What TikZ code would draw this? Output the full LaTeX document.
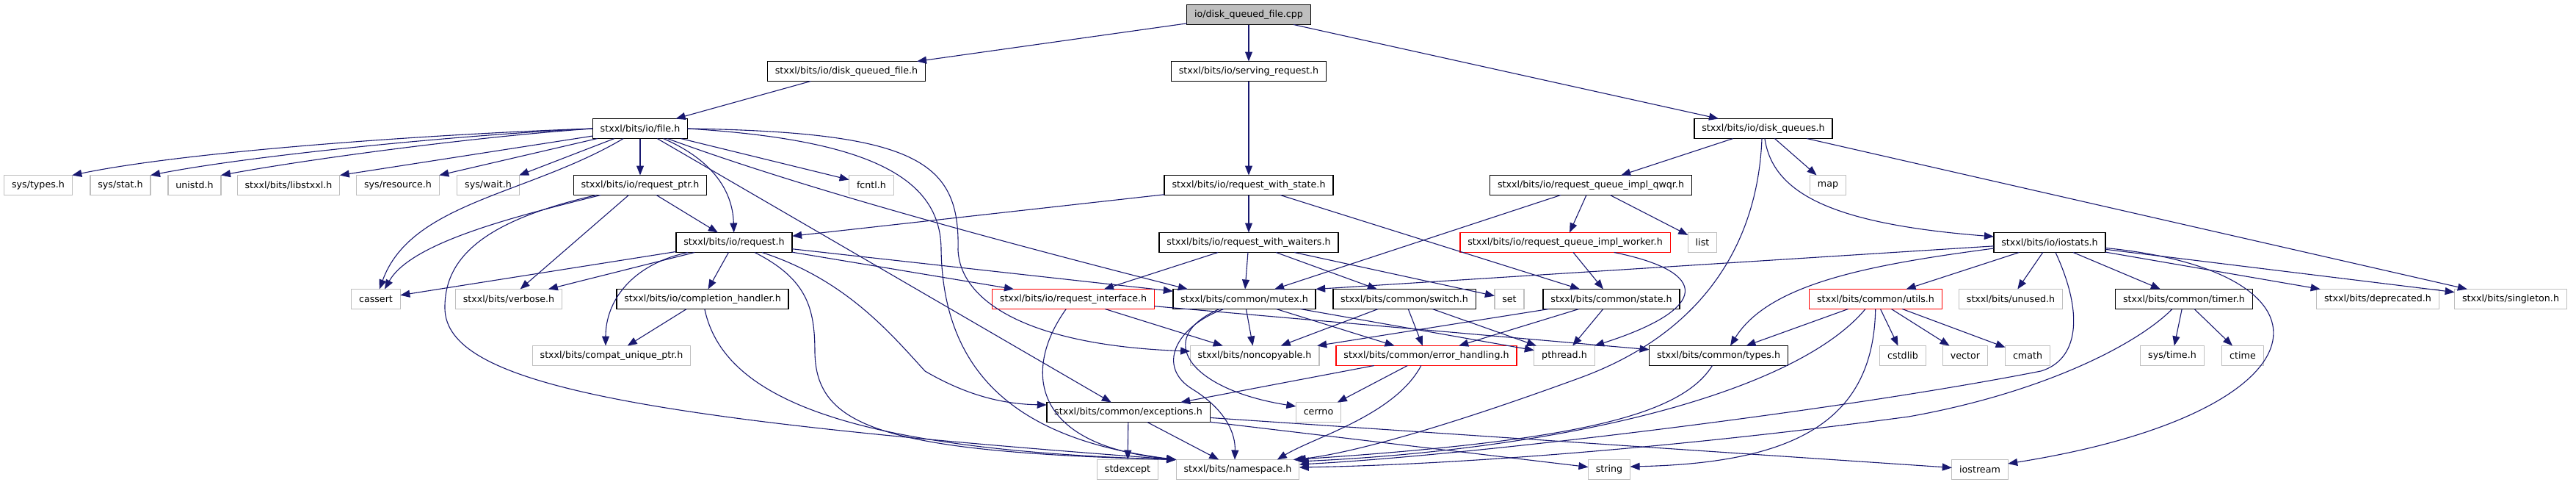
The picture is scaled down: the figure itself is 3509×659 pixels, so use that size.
\documentclass[tikz,border=0pt]{standalone}
\usepackage{fontspec}
\setmainfont{DejaVu Sans}
\usetikzlibrary{arrows.meta}
\definecolor{edgeblue}{RGB}{25,25,112}
\definecolor{extgray}{RGB}{191,191,191}
\definecolor{cutred}{RGB}{255,0,0}

\begin{document}
\begin{tikzpicture}[x=0.5pt,y=-0.5pt,
  box/.style={draw,fill=white,minimum height=13.5pt,inner xsep=5.2pt,inner ysep=0pt,
    outer sep=0pt,font=\fontsize{6.33}{7.6}\selectfont},
  hdr/.style={box,draw=black,line width=.7pt},
  sys/.style={box,draw=extgray,line width=.65pt},
  cut/.style={box,draw=cutred,line width=.65pt},
  src/.style={hdr,fill=extgray},
  arr/.style={-{Triangle[length=6.5pt,width=5pt]},color=edgeblue,line width=.55pt}
]
\useasboundingbox (0,0) rectangle (3509,659);
\fill[white] (0,0) rectangle (3509,659);
% level 0-2
\node[src] (root) at (1701,20) {io/disk\_queued\_file.cpp};
\node[hdr] (dqfile) at (1153,97) {stxxl/bits/io/disk\_queued\_file.h};
\node[hdr] (serving) at (1701,97) {stxxl/bits/io/serving\_request.h};
\node[hdr] (file) at (872,175) {stxxl/bits/io/file.h};
\node[hdr] (diskq) at (2402,175) {stxxl/bits/io/disk\_queues.h};
% level 3
\node[sys] (systypes) at (52,252) {sys/types.h};
\node[sys] (sysstat) at (164,252) {sys/stat.h};
\node[sys] (unistd) at (265,252) {unistd.h};
\node[sys] (libstxxl) at (393,252) {stxxl/bits/libstxxl.h};
\node[sys] (sysres) at (542,252) {sys/resource.h};
\node[sys] (syswait) at (665,252) {sys/wait.h};
\node[hdr] (reqptr) at (872,252) {stxxl/bits/io/request\_ptr.h};
\node[sys] (fcntl) at (1187,252) {fcntl.h};
\node[hdr] (reqstate) at (1701,252) {stxxl/bits/io/request\_with\_state.h};
\node[hdr] (qwqr) at (2167,252) {stxxl/bits/io/request\_queue\_impl\_qwqr.h};
\node[sys] (map) at (2490,252) {map};
% level 4
\node[hdr] (request) at (1000,330) {stxxl/bits/io/request.h};
\node[hdr] (reqwait) at (1701,330) {stxxl/bits/io/request\_with\_waiters.h};
\node[cut] (worker) at (2132,330) {stxxl/bits/io/request\_queue\_impl\_worker.h};
\node[sys] (list) at (2319,330) {list};
\node[hdr] (iostats) at (2792,330) {stxxl/bits/io/iostats.h};
% level 5
\node[sys] (cassert) at (512,407) {cassert};
\node[sys] (verbose) at (693,407) {stxxl/bits/verbose.h};
\node[hdr] (complh) at (957,407) {stxxl/bits/io/completion\_handler.h};
\node[cut] (reqif) at (1462,407) {stxxl/bits/io/request\_interface.h};
\node[hdr] (mutex) at (1695,407) {stxxl/bits/common/mutex.h};
\node[hdr] (switch) at (1913,407) {stxxl/bits/common/switch.h};
\node[sys] (set) at (2056,407) {set};
\node[hdr] (state) at (2195,407) {stxxl/bits/common/state.h};
\node[cut] (utils) at (2555,407) {stxxl/bits/common/utils.h};
\node[sys] (unused) at (2739,407) {stxxl/bits/unused.h};
\node[hdr] (timer) at (2975,407) {stxxl/bits/common/timer.h};
\node[sys] (deprec) at (3239,407) {stxxl/bits/deprecated.h};
\node[sys] (singleton) at (3420,407) {stxxl/bits/singleton.h};
% level 6
\node[sys] (compat) at (833,484) {stxxl/bits/compat\_unique\_ptr.h};
\node[sys] (noncopy) at (1709,484) {stxxl/bits/noncopyable.h};
\node[cut] (errh) at (1943,484) {stxxl/bits/common/error\_handling.h};
\node[sys] (pthread) at (2131,484) {pthread.h};
\node[hdr] (types) at (2341,484) {stxxl/bits/common/types.h};
\node[sys] (cstdlib) at (2592,484) {cstdlib};
\node[sys] (vector) at (2677,484) {vector};
\node[sys] (cmath) at (2762,484) {cmath};
\node[sys] (systime) at (2959,484) {sys/time.h};
\node[sys] (ctime) at (3055,484) {ctime};
% level 7-8
\node[hdr] (except) at (1537,561) {stxxl/bits/common/exceptions.h};
\node[sys] (cerrno) at (1796,561) {cerrno};
\node[sys] (stdexcept) at (1536,639) {stdexcept};
\node[sys] (namespace) at (1686,639) {stxxl/bits/namespace.h};
\node[sys] (string) at (2192,639) {string};
\node[sys] (iostream) at (2697,639) {iostream};

% top
\draw[arr] (root) -- (dqfile);
\draw[arr] (root) -- (serving);
\draw[arr] (root) -- (diskq);
\draw[arr] (dqfile) -- (file);
\draw[arr] (serving) -- (reqstate);
% file.h
\draw[arr] (file.west) .. controls (600,182) and (260,205) .. (systypes.north east);
\draw[arr] (file.west) .. controls (620,184) and (340,212) .. (sysstat.north east);
\draw[arr] (file.west) .. controls (650,186) and (430,215) .. (unistd.north east);
\draw[arr] (file) -- (libstxxl.north east);
\draw[arr] (file) -- (sysres.north east);
\draw[arr] (file) -- (syswait.north east);
\draw[arr] (file) -- (reqptr);
\draw[arr] (file) .. controls (720,265) and (560,275) .. (cassert);
\draw[arr] (file) -- (fcntl);
\draw[arr] (file) .. controls (965,215) and (998,255) .. (request);
\draw[arr] (file) -- (except);
\draw[arr] (file) .. controls (1050,240) and (1250,300) .. ([xshift=10pt]mutex.north west);
\draw[arr] (file.east) .. controls (1250,180) and (1308,220) .. (1305,340)
  .. controls (1308,410) and (1400,470) .. ([yshift=3pt]noncopy.west);
\draw[arr] (file.east) .. controls (1180,190) and (1282,240) .. (1282,340)
  .. controls (1285,520) and (1400,600) .. (namespace.north west);
% request_ptr.h
\draw[arr] (reqptr) -- (request);
\draw[arr] (reqptr) -- (verbose);
\draw[arr] (reqptr) .. controls (700,295) and (560,330) .. ([xshift=6pt]cassert.north);
\draw[arr] (reqptr) .. controls (660,300) and (605,350) .. (606,420)
  .. controls (608,520) and (850,570) .. (namespace.north west);
% request.h
\draw[arr] (request) -- (cassert);
\draw[arr] (request) -- (verbose);
\draw[arr] (request) .. controls (860,360) and (825,410) .. ([xshift=-4pt]compat.north);
\draw[arr] (request) -- (complh);
\draw[arr] ([xshift=14pt]request.south) .. controls (1100,380) and (1110,420) .. (1110,480)
  .. controls (1112,580) and (1200,615) .. (namespace.north west);
\draw[arr] ([xshift=19pt]request.south) .. controls (1150,380) and (1210,450) .. (1260,505)
  .. controls (1320,540) and (1370,550) .. ([yshift=5pt]except.west);
\draw[arr] (request) -- (reqif);
\draw[arr] (request) -- (mutex);
% completion_handler.h, request_interface.h
\draw[arr] (complh) -- (compat);
\draw[arr] (complh) .. controls (985,540) and (1150,612) .. (namespace.north west);
\draw[arr] (reqif) .. controls (1395,500) and (1400,605) .. (namespace.north west);
\draw[arr] (reqif) -- (noncopy);
\draw[arr] (reqif) -- (types);
% mutex.h
\draw[arr] (mutex) -- (noncopy);
\draw[arr] ([xshift=-14pt]mutex.south) .. controls (1600,445) and (1575,500) .. (1625,530)
  .. controls (1670,558) and (1683,590) .. ([xshift=-2pt]namespace.north);
\draw[arr] ([xshift=-17pt]mutex.south) .. controls (1570,460) and (1620,530) .. ([yshift=4pt]cerrno.west);
\draw[arr] (mutex) -- (errh);
\draw[arr] (mutex) -- (pthread);
% switch.h, state.h
\draw[arr] (switch) -- (noncopy);
\draw[arr] (switch) -- (errh);
\draw[arr] (switch) -- (pthread);
\draw[arr] (state) -- (pthread);
\draw[arr] (state) -- (errh);
\draw[arr] (state) -- (noncopy);
% request_with_state.h, request_with_waiters.h
\draw[arr] (reqstate) -- (request);
\draw[arr] (reqstate) -- (reqwait);
\draw[arr] (reqstate) -- (state);
\draw[arr] (reqwait) -- (reqif);
\draw[arr] (reqwait) -- (mutex);
\draw[arr] (reqwait) -- (switch);
\draw[arr] (reqwait) -- (set);
% disk_queues.h
\draw[arr] (diskq) -- (qwqr);
\draw[arr] (diskq) -- (map);
\draw[arr] (diskq) .. controls (2415,265) and (2500,305) .. ([yshift=4pt]iostats.west);
\draw[arr] (diskq) -- (singleton);
\draw[arr] ([xshift=-1pt]diskq.south) .. controls (2395,320) and (2330,450) .. (2150,515)
  .. controls (1980,577) and (1850,615) .. ([xshift=-2pt]namespace.north east);
% request_queue_impl_*
\draw[arr] (qwqr) -- (worker);
\draw[arr] (qwqr) -- (list);
\draw[arr] (qwqr) -- (mutex);
\draw[arr] (worker) -- (state);
\draw[arr] (worker) .. controls (2330,370) and (2330,420) .. (pthread.north east);
% iostats.h
\draw[arr] (iostats) -- (mutex.north east);
\draw[arr] ([yshift=-4pt]iostats.west) .. controls (2550,360) and (2410,385) .. ([xshift=8pt]types.north);
\draw[arr] (iostats) -- (utils);
\draw[arr] (iostats) -- (unused);
\draw[arr] (iostats) -- (timer);
\draw[arr] (iostats) -- (deprec);
\draw[arr] (iostats) -- (singleton);
\draw[arr] (iostats) .. controls (3200,370) and (3180,560) .. ([yshift=4pt]iostream.east);
\draw[arr] ([xshift=4pt]iostats.south) .. controls (2840,430) and (2830,490) .. (2780,505)
  .. controls (2500,560) and (2000,620) .. ([yshift=3.5pt]namespace.east);
% utils.h, timer.h, types.h
\draw[arr] (utils) -- (types);
\draw[arr] ([xshift=-7pt]utils.south) .. controls (2450,530) and (2150,610) .. ([yshift=5.5pt]namespace.east);
\draw[arr] (utils) .. controls (2552,570) and (2450,630) .. ([yshift=2pt]string.east);
\draw[arr] (utils) -- (cstdlib);
\draw[arr] (utils) -- (vector);
\draw[arr] (utils) -- (cmath);
\draw[arr] (timer) -- (systime);
\draw[arr] (timer) -- (ctime);
\draw[arr] ([xshift=-8pt]timer.south) .. controls (2910,470) and (2780,535) .. (2600,567)
  .. controls (2300,607) and (2000,632) .. ([yshift=1.5pt]namespace.east);
\draw[arr] (types) .. controls (2290,565) and (2150,600) .. ([xshift=-4pt]namespace.north east);
% error_handling.h, exceptions.h
\draw[arr] (errh) -- (except);
\draw[arr] (errh) -- (cerrno);
\draw[arr] (errh) .. controls (1900,565) and (1790,595) .. ([xshift=-15pt]namespace.north east);
\draw[arr] (except) -- (stdexcept);
\draw[arr] (except) -- (namespace);
\draw[arr] (except) -- (string);
\draw[arr] (except) -- (iostream);
\end{tikzpicture}
\end{document}
